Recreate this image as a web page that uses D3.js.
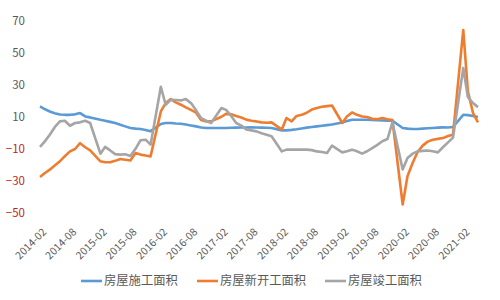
<!DOCTYPE html>
<html><head><meta charset="utf-8">
<script src="https://cdn.jsdelivr.net/npm/d3@7/dist/d3.min.js"></script>
<style>body{margin:0;background:#fff}svg{display:block}</style>
</head><body>
<svg id="c" width="500" height="300"></svg>
<script>
// Months (Jan is merged into Feb in the source statistics)
const years = [2014,2015,2016,2017,2018,2019,2020];
const months = [];
years.forEach(y => { for (let m = 2; m <= 12; m++) months.push(y + "-" + String(m).padStart(2,"0")); });
["2021-02","2021-03","2021-04","2021-05"].forEach(d => months.push(d));

const seriesNames = ["房屋施工面积","房屋新开工面积","房屋竣工面积"];
const construction = [
  16.4,14.8,13.3,12.2,11.4,11.2,11.2,11.5,12.3,10.2,9.6,
  8.1,7.5,6.8,6.1,5.0,4.0,3.0,2.6,2.4,1.8,1.0,
  5.5,6.1,6.1,5.8,5.6,5.2,4.6,4.0,3.3,3.0,3.0,
  3.0,3.0,3.1,3.2,3.3,3.3,3.4,3.3,3.2,3.1,3.0,
  1.5,1.5,1.8,2.2,2.7,3.2,3.6,4.0,4.4,4.8,5.2,
  6.4,7.3,8.1,8.1,8.1,8.1,8.0,7.8,7.7,7.6,7.5,
  3.0,2.6,2.4,2.4,2.6,2.8,3.0,3.2,3.4,3.3,3.6,
  11.2,11.0,10.5,9.8
];
const newStarts = [
  -27.5,-25.2,-23.0,-20.4,-17.8,-14.6,-11.6,-10.1,-6.5,-9.0,-11.0,
  -17.8,-18.4,-18.4,-17.5,-16.3,-16.8,-17.3,-12.6,-13.6,-14.2,-14.7,
  13.3,18.5,21.0,19.0,17.5,15.8,14.3,12.5,8.0,7.1,7.1,
  10.0,11.8,11.5,10.5,9.5,8.2,7.5,7.1,6.5,6.3,6.5,
  2.0,9.2,7.1,10.5,11.2,12.5,14.5,15.5,16.2,16.6,17.0,
  6.1,10.2,12.7,11.2,10.2,9.8,8.8,8.5,9.2,8.5,7.9,
  -44.7,-27.1,-18.8,-12.0,-8.0,-5.5,-4.3,-3.8,-3.3,-2.0,-1.2,
  64.1,25.7,12.3,6.5
];
const completions = [
  -8.8,-5.5,-1.2,3.5,7.1,7.5,4.4,6.1,6.5,7.5,6.1,
  -13.0,-8.8,-11.0,-13.3,-13.6,-13.4,-14.5,-10.0,-4.7,-4.3,-7.4,
  28.7,17.5,20.6,20.4,20.2,21.0,18.5,14.0,9.2,7.5,6.1,
  15.4,14.3,10.5,6.1,4.5,2.0,1.5,0.9,-0.3,-1.2,-2.2,
  -11.6,-10.5,-10.5,-10.5,-10.5,-10.5,-10.8,-11.6,-12.0,-12.6,-8.0,
  -12.2,-11.5,-10.5,-11.5,-13.0,-11.5,-9.5,-7.5,-5.3,-3.9,6.5,
  -22.9,-15.7,-13.0,-11.6,-11.3,-11.0,-11.5,-12.2,-9.0,-6.0,-3.0,
  40.3,22.2,18.5,16.0
];
const yTicks = [70,50,30,10,-10,-30,-50];
const xTickLabels = ["2014-02","2014-08","2015-02","2015-08","2016-02","2016-08","2017-02","2017-08","2018-02","2018-08","2019-02","2019-08","2020-02","2020-08","2021-02"];
const colors = ["#5B9BD5","#ED7D31","#A5A5A5"];

const parse = d3.timeParse("%Y-%m");
const svg = d3.select("#c");
const x = d3.scaleTime().domain([parse("2014-02"), parse("2021-05")]).range([40, 478]);
const y = d3.scaleLinear().domain([-50, 70]).range([213, 20.5]);
const font = "'Microsoft YaHei','Noto Sans CJK SC',sans-serif";

// y axis labels
const yAxis = d3.axisLeft(y).tickValues(yTicks).tickSize(0).tickPadding(0);
const gy = svg.append("g").attr("transform","translate(25,0)").call(yAxis);
gy.select(".domain").remove();
gy.selectAll("text").attr("font-family", font).attr("font-size", 11.5)
  .attr("fill", d => d < 0 ? "#C0281E" : "#595959");

// x axis labels
const xAxis = d3.axisBottom(x).tickValues(xTickLabels.map(parse)).tickSize(0).tickFormat(d3.timeFormat("%Y-%m"));
const gx = svg.append("g").attr("transform","translate(0,222)").call(xAxis);
gx.select(".domain").remove();
gx.selectAll("text").attr("font-family", font).attr("font-size", 10.5).attr("fill","#595959")
  .attr("text-anchor","end").attr("transform","translate(4,8) rotate(-45)").attr("dy","0.35em").attr("y",0);

// lines
const allSeries = [construction, newStarts, completions];
const line = d3.line().x((d,i) => x(parse(months[i]))).y(d => y(d));
allSeries.forEach((s, k) => {
  svg.append("path").datum(s).attr("d", line).attr("fill","none")
    .attr("stroke", colors[k]).attr("stroke-width", 2.6).attr("stroke-linejoin","round");
});

// legend
const legendX = [81, 197, 325];
seriesNames.forEach((n, k) => {
  const g = svg.append("g").attr("transform", `translate(${legendX[k]},281)`);
  g.append("line").attr("x1",0).attr("x2",21).attr("y1",0).attr("y2",0)
    .attr("stroke", colors[k]).attr("stroke-width", 2.6);
  g.append("text").attr("x",23).attr("y",0).attr("dy","0.36em")
    .attr("font-family", font).attr("font-size", 12.3).attr("fill","#595959").text(n);
});
</script>
</body></html>
